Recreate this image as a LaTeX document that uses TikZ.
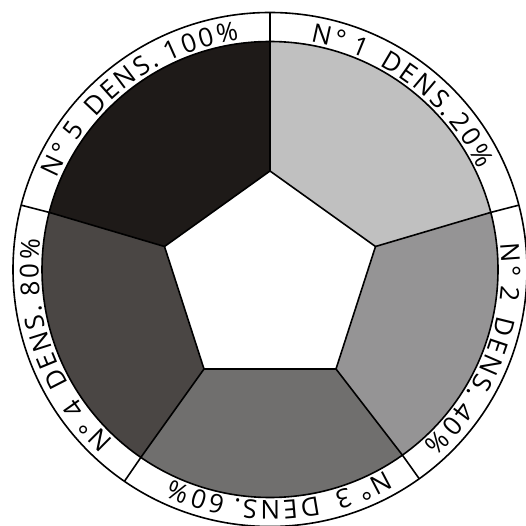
\documentclass[tikz,border=0pt]{standalone}
\usepackage{fontspec}
\newfontfamily\labfont{Open Sans}
\usetikzlibrary{calc}
\definecolor{cA}{RGB}{192,192,192}
\definecolor{cB}{RGB}{149,148,149}
\definecolor{cC}{RGB}{112,111,110}
\definecolor{cD}{RGB}{74,70,68}
\definecolor{cE}{RGB}{30,26,24}
\newcommand{\labsz}{\labfont\fontsize{26}{30}\selectfont}
\newcommand{\labpt}{26}
% #1 id, #2 centre angle, #3 baseline radius, #4 list char/width(em)/extra(pt)
\newcommand{\ringtext}[4]{%
  \gdef\rtot{0}%
  \foreach \ch/\w/\ex in {#4} {%
    \pgfmathsetmacro\tmp{\rtot+\w*\labpt+\ex}%
    \xdef\rtot{\tmp}%
  }%
  \pgfmathsetmacro\tmp{-\rtot/2}%
  \xdef\rpos{\tmp}%
  \foreach \ch/\w/\ex [count=\k] in {#4} {%
    \pgfmathsetmacro\cpos{\rpos+\w*\labpt/2}%
    \pgfmathsetmacro\ang{#2-(\cpos)/#3*57.29578}%
    \node[name=#1-\k,rotate=\ang-90,anchor=base,inner sep=0pt,font=\labsz] at ($(O)+(\ang:#3)$) {\ch};
    \pgfmathsetmacro\tmp{\rpos+\w*\labpt+\ex}%
    \xdef\rpos{\tmp}%
  }%
}
\begin{document}
\begin{tikzpicture}[x=1pt,y=1pt,line join=round,
  edge/.style={line width=1.6pt,draw=black}]
\useasboundingbox (0,0) rectangle (526,525);
\coordinate (O) at (270,255.5);
\coordinate (P1) at (270,354);
\coordinate (P2) at (375.5,278.5);
\coordinate (P3) at (336,156);
\coordinate (P4) at (204,156);
\coordinate (P5) at (164.5,278.5);
\coordinate (Q1) at ($(O)+(90:228)$);
\coordinate (Q2) at ($(O)+(14.5:228)$);
\coordinate (Q3) at ($(O)+(-54.5:228)$);
\coordinate (Q4) at ($(O)+(235.5:228)$);
\coordinate (Q5) at ($(O)+(165.5:228)$);
\coordinate (R1) at ($(O)+(90:257)$);
\coordinate (R2) at ($(O)+(14.5:257)$);
\coordinate (R3) at ($(O)+(-54.5:257)$);
\coordinate (R4) at ($(O)+(235.5:257)$);
\coordinate (R5) at ($(O)+(165.5:257)$);
% sectors
\fill[cA] (P1) -- (Q1) arc[start angle=90,end angle=14.5,radius=228] -- (P2) -- cycle;
\fill[cB] (P2) -- (Q2) arc[start angle=14.5,end angle=-54.5,radius=228] -- (P3) -- cycle;
\fill[cC] (P3) -- (Q3) arc[start angle=-54.5,end angle=-124.5,radius=228] -- (P4) -- cycle;
\fill[cD] (P4) -- (Q4) arc[start angle=235.5,end angle=165.5,radius=228] -- (P5) -- cycle;
\fill[cE] (P5) -- (Q5) arc[start angle=165.5,end angle=90,radius=228] -- (P1) -- cycle;
% outlines
\draw[edge] (O) circle[radius=228];
\draw[edge] (O) circle[radius=257];
\draw[edge] (P1) -- (P2) -- (P3) -- (P4) -- (P5) -- cycle;
\foreach \i in {1,...,5} {
  \draw[edge] (P\i) -- (Q\i);
  \draw[edge] (Q\i) -- (R\i);
}
% labels
\ringtext{la}{52.8}{231.5}{N/0.748/2.5,°/0.418/9,1/0.572/16,D/0.735/2.5,E/0.556/2.5,N/0.748/2.5,S/0.550/2.5,./0.266/6,2/0.572/2.5,0/0.572/2.5,\%/0.828/0}
\ringtext{lb}{-21}{231.5}{N/0.748/2.5,°/0.418/9,2/0.572/16,D/0.735/2.5,E/0.556/2.5,N/0.748/2.5,S/0.550/2.5,./0.266/9,4/0.572/2.5,0/0.572/2.5,\%/0.828/0}
\ringtext{lc}{-87.5}{231.5}{N/0.748/2.5,°/0.418/9,3/0.572/16,D/0.735/2.5,E/0.556/2.5,N/0.748/2.5,S/0.550/2.5,./0.266/9,6/0.572/2.5,0/0.572/2.5,\%/0.828/0}
\ringtext{ld}{200}{231.5}{N/0.748/2.5,°/0.418/9,4/0.572/16,D/0.735/2.5,E/0.556/2.5,N/0.748/2.5,S/0.550/2.5,./0.266/9,8/0.572/2.5,0/0.572/2.5,\%/0.828/0}
\ringtext{le}{127.3}{231.5}{N/0.748/2.5,°/0.418/9,5/0.572/16,D/0.735/2.5,E/0.556/2.5,N/0.748/2.5,S/0.550/2.5,./0.266/9,1/0.572/2.5,0/0.572/2.5,0/0.572/2.5,\%/0.828/0}
\end{tikzpicture}
\end{document}
